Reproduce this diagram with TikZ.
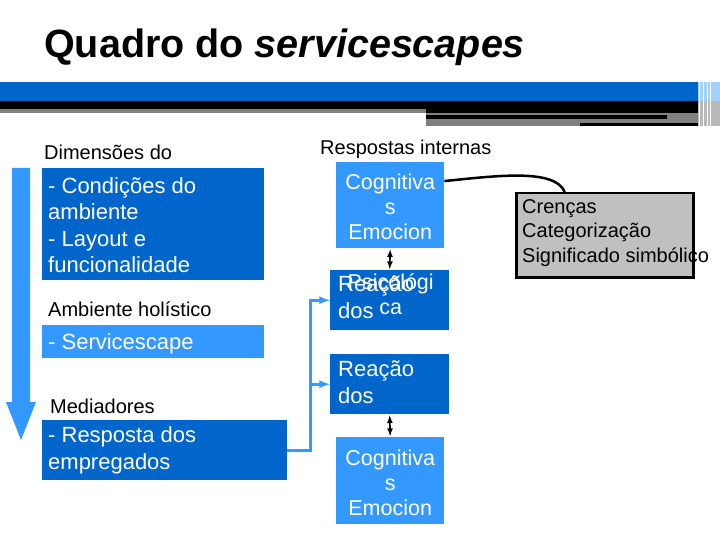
\documentclass[tikz,border=0pt]{standalone}
\usepackage{fontspec}
\setmainfont{Liberation Sans}
\usetikzlibrary{calc}
\definecolor{dkblue}{HTML}{0066CC}
\definecolor{ltblue}{HTML}{3399FF}
\definecolor{boxgray}{HTML}{C0C0C0}
\definecolor{bargray}{HTML}{808080}
\tikzset{
  lbl/.style={inner sep=0pt, anchor=base west, font=\fontsize{20}{24}\selectfont},
  dkbox/.style={fill=dkblue, inner sep=0pt, anchor=north west},
  ltbox/.style={fill=ltblue, inner sep=0pt, anchor=north west},
  wtxt/.style={text=white, inner sep=0pt, anchor=base west, align=left, font=\fontsize{22}{26.5}\selectfont},
  ctxt/.style={text=white, inner sep=0pt, anchor=base, align=center, font=\fontsize{21.5}{25}\selectfont},
  feedarrow/.style={->, >=latex, draw=ltblue, line width=2.6pt},
  linkarrow/.style={latex-latex, line width=1.6pt, shorten <=1pt, shorten >=1pt}
}
\begin{document}
\begin{tikzpicture}[x=1pt, y=-1pt]
\useasboundingbox (0,0) rectangle (720,540);
\node[inner sep=0pt, anchor=base west, font=\fontsize{39.5}{44}\selectfont\bfseries] (title) at (44,58) {Quadro do \textit{servicescapes}};
% banner under the title
\fill[dkblue] (0,82) rectangle (698,101);
\fill[black] (0,101) rectangle (698,113);
\fill[bargray] (0,109) rectangle (426,113);
\fill[bargray] (426,113) rectangle (698,123);
\fill[bargray] (426,123) rectangle (580,126);
\fill[black] (426,115) rectangle (667,119);
\fill[black] (580,123) rectangle (707,126);
\fill[ltblue!45] (698,82) rectangle (720,101);
\fill[gray!55] (698,101) rectangle (720,126);
\foreach \xs in {699.5,703,707,710} \draw[white, line width=0.8pt] (\xs,82) -- (\xs,126);
% left column
\fill[ltblue] (12,168) -- (30,168) -- (30,402) -- (36,402) -- (21,440) -- (6,402) -- (12,402) -- cycle;
\node[lbl] (dimlbl) at (44,160) {Dimensões do};
\node[dkbox, minimum width=222pt, minimum height=112pt] (amb) at (42,168) {};
\node[wtxt] (ambtxt) at ($(amb.north west)+(6,104.5)$) {- Condições do\\ambiente\\- Layout e\\funcionalidade};
\node[lbl] (hollbl) at (48,316) {Ambiente holístico};
\node[ltbox, minimum width=222pt, minimum height=33pt] (svc) at (42,325) {};
\node[wtxt] (svctxt) at ($(svc.north west)+(6,24)$) {- Servicescape};
\node[lbl] (medlbl) at (50,413) {Mediadores};
\node[dkbox, minimum width=245pt, minimum height=60pt] (emp) at (42,420) {};
\node[wtxt] (emptxt) at ($(emp.north west)+(6,49)$) {- Resposta dos\\empregados};
% internal responses
\node[lbl] (resplbl) at (320,155) {Respostas internas};
\node[ltbox, minimum width=108pt, minimum height=86pt] (cog1) at (336,162) {};
\node[ctxt] (cog1txt) at ($(cog1.north)+(0,78)$) {Cognitiva\\s\\Emocion};
\node[dkbox, minimum width=119pt, minimum height=60pt] (reac1) at (330,270) {};
\node[wtxt] (reac1txt) at ($(reac1.north west)+(8,48)$) {Reação\\dos};
\node[ctxt] (psitxt) at ($(reac1.north)+(1,44)$) {Psicológi\\ca};
\node[dkbox, minimum width=119pt, minimum height=60pt] (reac2) at (330,354) {};
\node[wtxt] (reac2txt) at ($(reac2.north west)+(8,49)$) {Reação\\dos};
\node[ltbox, minimum width=108pt, minimum height=87pt] (cog2) at (336,437) {};
\node[ctxt] (cog2txt) at ($(cog2.north)+(0,78)$) {Cognitiva\\s\\Emocion};
\draw[linkarrow] (cog1.south) -- (reac1.north);
\draw[linkarrow] (reac2.south) -- (cog2.north);
\draw[feedarrow] (emp.east) -- ++(23,0) |- (reac1.west);
\draw[feedarrow] (emp.east) -- ++(23,0) |- (reac2.west);
% beliefs box
\node[draw=black, line width=2.5pt, fill=boxgray, inner sep=0pt, minimum width=177pt, minimum height=84pt, anchor=north west] (crenca) at (515,192) {};
\node[lbl, align=left, font=\fontsize{20}{24.5}\selectfont] (crencatxt) at (522,262) {Crenças\\Categorização\\Significado simbólico};
\draw[line width=2.5pt] (cog1.24) .. controls (495,176) and (555,168) .. ([xshift=-40pt]crenca.north);
\end{tikzpicture}
\end{document}
